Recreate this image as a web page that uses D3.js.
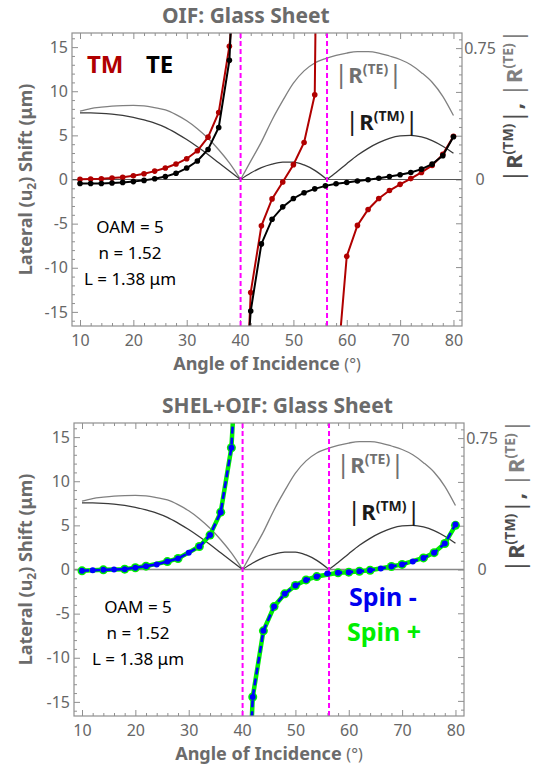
<!DOCTYPE html>
<html lang="en">
<head>
<meta charset="UTF-8">
<title>OIF: Glass Sheet</title>
<style>
    body { margin: 0; background: #fff; }
    svg { display: block; font-family: 'Noto Sans', sans-serif; }
    .frame { fill: none; stroke: #8f8f8f; stroke-width: 1.2px; }
    .axis .domain { display: none; }
    .axis .tick line { stroke: #8f8f8f; stroke-width: 1px; }
    .axis .tick text { fill: #666; font-size: 16px; font-family: 'Noto Sans', sans-serif; }
    .title { fill: #6b6b6b; font-size: 21px; font-weight: bold; }
    .axis-label { fill: #6b6b6b; font-size: 18px; font-weight: bold; }
    .crit { stroke: #ff00ff; stroke-width: 2px; stroke-dasharray: 5 3; }
    .r-te { fill: none; stroke: #808080; stroke-width: 1.3px; }
    .r-tm { fill: none; stroke: #3a3a3a; stroke-width: 1.3px; }
    .param { font-size: 17px; fill: #000; }
</style>
</head>
<body>
<svg id="chart" width="543" height="764"></svg>
<script src="https://d3js.org/d3.v7.min.js"></script>
<script>
// angle of incidence ticks (deg)
const angleMajor = [10, 20, 30, 40, 50, 60, 70, 80]
const angleMinor = [12, 14, 16, 18, 22, 24, 26, 28, 32, 34, 36, 38, 42, 44, 46, 48, 52, 54, 56, 58, 62, 64, 66, 68, 72, 74, 76, 78]
const shiftMajor = [-15, -10, -5, 0, 5, 10, 15]
const shiftMinor = [-16, -14, -13, -12, -11, -9, -8, -7, -6, -4, -3, -2, -1, 1, 2, 3, 4, 6, 7, 8, 9, 11, 12, 13, 14, 16]
const rMajor = [-0.75, -0.5, -0.25, 0, 0.25, 0.5, 0.75]
const rMinor = [-0.8, -0.7, -0.65, -0.6, -0.55, -0.45, -0.4, -0.35, -0.3, -0.2, -0.15, -0.1, -0.05,
    0.05, 0.1, 0.15, 0.2, 0.3, 0.35, 0.4, 0.45, 0.55, 0.6, 0.65, 0.7, 0.8]
const rLabels = [0, 0.75]

// zeros of |R| (deg): magenta dashed lines
const criticalAngles = [40.1, 56.3]

// |R(TE)| and |R(TM)| vs angle, split at the zeros
const rTE = [
    [[10, 0.39], [12, 0.405], [14, 0.413], [16, 0.419], [18, 0.422], [20, 0.423], [22, 0.42], [24, 0.41],
     [26, 0.397], [28, 0.37], [30, 0.335], [32, 0.29], [34, 0.235], [36, 0.17], [38, 0.095], [40.1, 0]],
    [[40.1, 0], [42, 0.105], [44, 0.215], [46, 0.34], [48, 0.45], [50, 0.55], [52, 0.62], [54, 0.665],
     [56, 0.69], [58, 0.708], [60, 0.722], [62, 0.73], [64, 0.73], [66, 0.722], [68, 0.705], [70, 0.685],
     [72, 0.655], [74, 0.61], [76, 0.555], [78, 0.475], [80, 0.365]]
]
const rTM = [
    [[10, 0.38], [12, 0.38], [14, 0.378], [16, 0.373], [18, 0.366], [20, 0.355], [22, 0.34], [24, 0.322],
     [26, 0.298], [28, 0.265], [30, 0.228], [32, 0.187], [34, 0.143], [36, 0.095], [38, 0.048], [40.1, 0]],
    [[40.1, 0], [42, 0.037], [44, 0.068], [46, 0.088], [48, 0.099], [50, 0.099], [52, 0.083], [54, 0.052], [56.3, 0]],
    [[56.3, 0], [58, 0.04], [60, 0.09], [62, 0.138], [64, 0.178], [66, 0.21], [68, 0.235], [70, 0.249],
     [72, 0.252], [74, 0.243], [76, 0.222], [78, 0.19], [80, 0.15]]
]

// lateral shift (um), one array per branch between singularities
const shiftTM = [
    [[10, 0.02], [12, 0.05], [14, 0.09], [16, 0.16], [18, 0.26], [20, 0.42], [22, 0.65], [24, 0.95],
     [26, 1.3], [28, 1.75], [30, 2.35], [32, 3.25], [34, 4.8], [36, 7.6], [38, 15.1], [40, 27]],
    [[40, -41], [42, -12.8], [44, -5.25], [46, -2.2], [48, -0.28], [50, 1.68], [52, 4.2], [54, 9.6], [56, 120]],
    [[58, -23], [60, -8.7], [62, -5.2], [64, -3.4], [66, -2.15], [68, -1.25], [70, -0.55], [72, 0.1],
     [74, 0.8], [76, 1.6], [78, 2.85], [80, 4.9]]
]
const shiftTE = [
    [[10, -0.45], [12, -0.46], [14, -0.45], [16, -0.4], [18, -0.33], [20, -0.24], [22, -0.1], [24, 0.08],
     [26, 0.33], [28, 0.7], [30, 1.3], [32, 2.1], [34, 3.4], [36, 5.9], [38, 13.5], [40, 40]],
    [[40, -32], [42, -14.9], [44, -7.3], [46, -4.5], [48, -3.1], [50, -2.15], [52, -1.5], [54, -1.06],
     [56, -0.72], [58, -0.49], [60, -0.34], [62, -0.17], [64, -0.02], [66, 0.15], [68, 0.34], [70, 0.53],
     [72, 0.79], [74, 1.17], [76, 1.74], [78, 2.7], [80, 4.85]]
]
const shiftSpinMinus = [
    [[10, -0.15], [12, -0.08], [14, -0.04], [16, 0], [18, 0.04], [20, 0.2], [22, 0.38], [24, 0.58],
     [26, 0.9], [28, 1.25], [30, 1.9], [32, 2.6], [34, 3.9], [36, 6.5], [38, 13.8], [40, 35]],
    [[40, -43], [42, -14.45], [44, -6.95], [46, -4.2], [48, -2.76], [50, -1.81], [52, -1.18], [54, -0.8],
     [56, -0.45], [58, -0.38], [60, -0.3], [62, -0.2], [64, -0.09], [66, 0.12], [68, 0.34], [70, 0.58],
     [72, 0.92], [74, 1.31], [76, 1.91], [78, 2.94], [80, 5.1]]
]
const shiftSpinPlus = [
    [[10, -0.15], [14, -0.04], [18, 0.04], [20, 0.2], [22, 0.38], [26, 0.9], [28, 1.25],
     [32, 2.6], [34, 3.9], [36, 6.5], [38, 13.8], [40, 35]],
    [[40, -43], [42, -14.45], [44, -6.95], [46, -4.2], [48, -2.76], [50, -1.81], [52, -1.18], [54, -0.8],
     [58, -0.38], [60, -0.3], [62, -0.2], [64, -0.09], [68, 0.34], [70, 0.58],
     [74, 1.31], [76, 1.91], [78, 2.94], [80, 5.0]]
]

const paramLines = ['OAM = 5', 'n = 1.52', 'L = 1.38 \u03bcm']

const xDomain = [8.5, 81.6]
const yDomain = [-16.6, 16.6]
const rToShift = 19.85 // |R| = 0.75 sits at shift 14.9 on the left axis
const plotW = 390
const plotH = 293

const svg = d3.select('#chart')

// text made of styled pieces (for the superscripts)
function rich(sel, parts) {
    parts.forEach(p => {
        sel.append('tspan')
            .text(p.t)
            .attr('dy', p.dy || 0)
            .attr('font-size', p.size)
            .attr('font-weight', p.weight || 'bold')
            .attr('fill', p.fill)
    })
    return sel
}

function rParts(tag, fill, size, sup) {
    return [
        { t: '|', size: size + 4, weight: 'normal', fill },
        { t: 'R', size, fill },
        { t: '(' + tag + ')', size: sup, fill, dy: -size * 0.42 },
        { t: '|', size: size + 4, weight: 'normal', fill, dy: size * 0.42 }
    ]
}

function drawPanel(p) {
    const g = svg.append('g').attr('transform', `translate(${p.left},${p.top})`)
    const x = d3.scaleLinear().domain(xDomain).range([0, plotW])
    const y = d3.scaleLinear().domain(yDomain).range([plotH, 0])
    const y2 = d3.scaleLinear().domain(yDomain.map(v => v / rToShift)).range([plotH, 0])

    const clipId = 'clip' + p.id
    g.append('clipPath').attr('id', clipId)
        .append('rect').attr('width', plotW).attr('height', plotH)

    // title and axis labels
    svg.append('text').attr('class', 'title')
        .attr('x', 162).attr('y', p.top - 10)
        .text(p.title)

    const xl = svg.append('text').attr('class', 'axis-label')
        .attr('x', p.left + plotW / 2).attr('y', p.top + plotH + 44)
        .attr('text-anchor', 'middle')
    xl.append('tspan').text('Angle of Incidence ')
    xl.append('tspan').attr('font-weight', 'normal').attr('font-size', 16).text('(\u00b0)')

    const yl = svg.append('text').attr('class', 'axis-label')
        .attr('transform', `translate(32,${p.top + plotH / 2}) rotate(-90)`)
        .attr('text-anchor', 'middle')
    yl.append('tspan').text('Lateral (u')
    yl.append('tspan').attr('font-size', 12).attr('dy', 4).text('2')
    yl.append('tspan').attr('dy', -4).text(') Shift (\u03bcm)')

    const rl = svg.append('text')
        .attr('transform', `translate(${p.left + plotW + 60},${p.top + 73}) rotate(-90)`)
        .attr('text-anchor', 'middle')
    rich(rl, rParts('TM', '#4d4d4d', 22, 14)
        .concat([{ t: ', ', size: 22, fill: '#4d4d4d' }])
        .concat(rParts('TE', '#808080', 22, 14)))

    // axes, ticks pointing inside
    const axes = [
        [d3.axisBottom(x).tickValues(angleMajor).tickSize(-6).tickPadding(9), `translate(0,${plotH})`],
        [d3.axisBottom(x).tickValues(angleMinor).tickSize(-3).tickFormat(''), `translate(0,${plotH})`],
        [d3.axisTop(x).tickValues(angleMajor).tickSize(-6).tickFormat(''), null],
        [d3.axisTop(x).tickValues(angleMinor).tickSize(-3).tickFormat(''), null],
        [d3.axisLeft(y).tickValues(shiftMajor).tickSize(-6).tickPadding(4).tickFormat(String), null],
        [d3.axisLeft(y).tickValues(shiftMinor).tickSize(-3).tickFormat(''), null],
        [d3.axisRight(y2).tickValues(rMajor).tickSize(-6).tickFormat(d => rLabels.includes(d) ? String(d) : ''), `translate(${plotW},0)`],
        [d3.axisRight(y2).tickValues(rMinor).tickSize(-3).tickFormat(''), `translate(${plotW},0)`]
    ]
    axes.forEach(([ax, tr]) => {
        const a = g.append('g').attr('class', 'axis').call(ax)
        if (tr) a.attr('transform', tr)
    })
    g.selectAll('.axis').filter((d, i) => i === 6).selectAll('text')
        .attr('text-anchor', 'middle').attr('x', 18)

    const plot = g.append('g').attr('clip-path', `url(#${clipId})`)

    // reflection magnitude curves
    const rLine = d3.line().x(d => x(d[0])).y(d => y2(d[1])).curve(d3.curveMonotoneX)
    plot.selectAll('.r-te').data(rTE).join('path').attr('class', 'r-te').attr('d', rLine)
    plot.selectAll('.r-tm').data(rTM).join('path').attr('class', 'r-tm').attr('d', rLine)

    plot.append('line')
        .attr('x1', 0).attr('x2', plotW).attr('y1', y(0)).attr('y2', y(0))
        .attr('stroke', p.zeroColor).attr('stroke-width', p.zeroWidth)

    plot.selectAll('.crit').data(criticalAngles).join('line').attr('class', 'crit')
        .attr('x1', d => x(d)).attr('x2', d => x(d)).attr('y1', 0).attr('y2', plotH)

    const line = d3.line().x(d => x(d[0])).y(d => y(d[1]))
    p.series.forEach(s => {
        plot.append('g').selectAll('path').data(s.data).join('path')
            .attr('d', line)
            .attr('fill', 'none')
            .attr('stroke', s.color)
            .attr('stroke-width', s.width)
            .attr('stroke-dasharray', s.dash || null)
        plot.append('g').selectAll('circle').data(s.data.flat()).join('circle')
            .attr('cx', d => x(d[0])).attr('cy', d => y(d[1]))
            .attr('r', s.r).attr('fill', s.color)
    })

    g.append('rect').attr('class', 'frame').attr('width', plotW).attr('height', plotH)

    // in-plot labels
    rich(g.append('text').attr('x', 262).attr('y', 50), rParts('TE', '#707070', 22, 14))
    rich(g.append('text').attr('x', 273).attr('y', 97), rParts('TM', '#1a1a1a', 22, 14))

    const pt = g.append('g').attr('class', 'param')
        .attr('transform', `translate(${p.paramX},${p.paramY})`)
    pt.selectAll('text').data(paramLines).join('text')
        .attr('text-anchor', 'middle')
        .attr('y', (d, i) => i * 26)
        .text(d => d)

    p.legend.forEach(l => {
        g.append('text').attr('x', l.x).attr('y', l.y)
            .attr('font-size', l.size).attr('font-weight', 'bold').attr('fill', l.color)
            .text(l.text)
    })
}

drawPanel({
    id: 1, left: 72, top: 33, title: 'OIF: Glass Sheet',
    paramX: 58, paramY: 200, zeroColor: '#555', zeroWidth: 1.1,
    series: [
        { data: shiftTM, color: '#b00000', width: 2, r: 2.8 },
        { data: shiftTE, color: '#000', width: 2, r: 2.8 }
    ],
    legend: [
        { text: 'TM', x: 15, y: 40, size: 24, color: '#b00000' },
        { text: 'TE', x: 74, y: 40, size: 24, color: '#000' }
    ]
})

drawPanel({
    id: 2, left: 74, top: 423, title: 'SHEL+OIF: Glass Sheet',
    paramX: 64, paramY: 190, zeroColor: '#888', zeroWidth: 1.6,
    series: [
        { data: shiftSpinPlus, color: '#00ee00', width: 4.5, r: 4.5 },
        { data: shiftSpinMinus, color: '#0000ff', width: 2.6, r: 3, dash: '7 4' }
    ],
    legend: [
        { text: 'Spin -', x: 275, y: 183, size: 25, color: '#0000ee' },
        { text: 'Spin +', x: 273, y: 218, size: 25, color: '#00ee00' }
    ]
})
</script>
</body>
</html>
